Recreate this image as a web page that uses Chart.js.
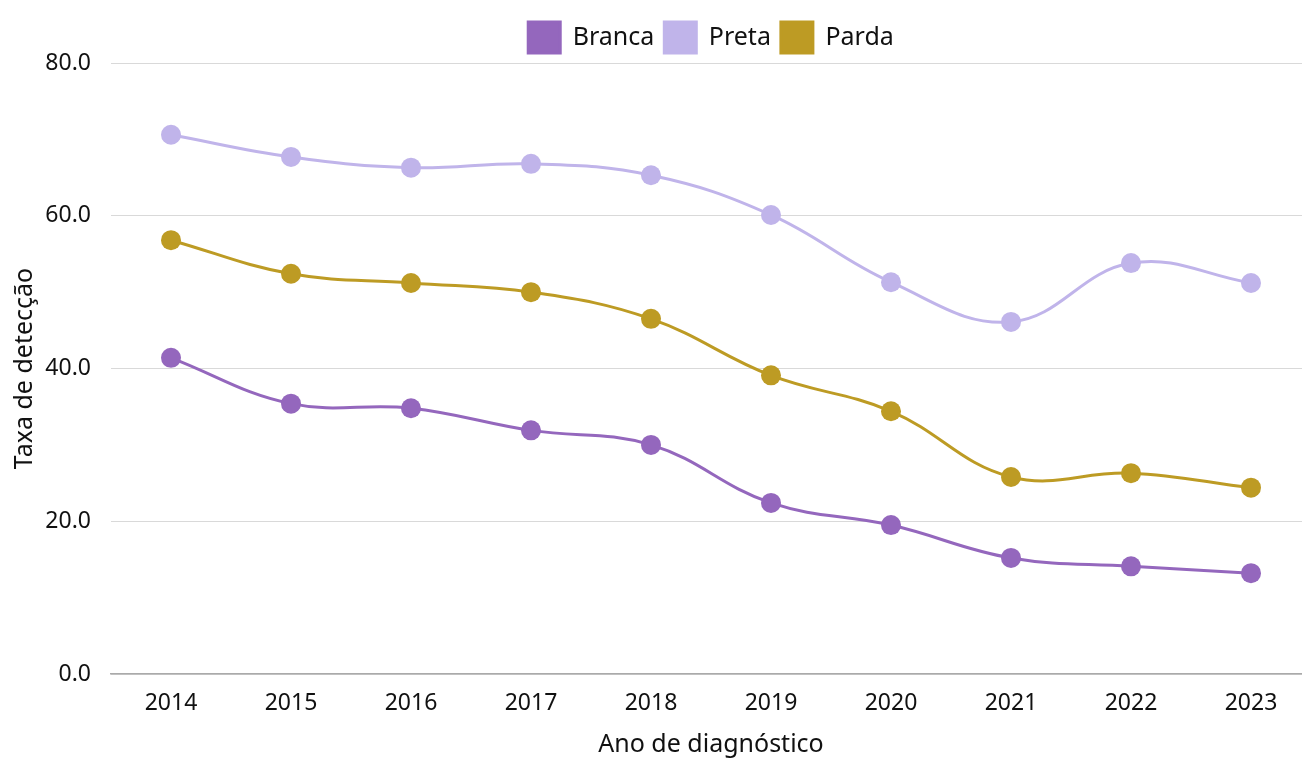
<!DOCTYPE html>
<html>
<head>
<meta charset="utf-8">
<script src="https://cdn.jsdelivr.net/npm/chart.js@4"></script>
<style>
  html, body { margin: 0; padding: 0; background: #fff; overflow: hidden; }
  #clip { width: 1302px; height: 760px; overflow: hidden; position: relative; }
  canvas { display: block; position: absolute; left: 0; top: 0; }
</style>
</head>
<body>
<!-- plot area runs a little past the right edge, as in the original -->
<div id="clip"><canvas id="chart" width="1311" height="760"></canvas></div>
<script>
// data
const years = ['2014', '2015', '2016', '2017', '2018', '2019', '2020', '2021', '2022', '2023'];
const branca = [41.4, 35.4, 34.8, 31.9, 30.0, 22.4, 19.5, 15.2, 14.1, 13.2];
const preta = [70.6, 67.7, 66.3, 66.8, 65.3, 60.1, 51.3, 46.1, 53.8, 51.2];
const parda = [56.8, 52.4, 51.2, 50.0, 46.5, 39.1, 34.4, 25.8, 26.3, 24.4];
const yTicks = [0, 20, 40, 60, 80];

const FONT = "'Noto Sans', sans-serif";

function series(label, data, color) {
    return {
        label: label,
        data: data,
        borderColor: color,
        backgroundColor: color,
        pointBackgroundColor: color,
        pointBorderWidth: 0,
        pointRadius: 10,
        pointHoverRadius: 10,
        borderWidth: 3,
        tension: 0.4
    };
}

new Chart(document.getElementById('chart'), {
    type: 'line',
    data: {
        labels: years,
        datasets: [
            series('Branca', branca, '#9467bd'),
            series('Preta', preta, '#c0b4ea'),
            series('Parda', parda, '#bd9b24')
        ]
    },
    options: {
        responsive: false,
        animation: false,
        layout: {
            autoPadding: false,
            padding: { top: 7, left: 0, right: 0, bottom: 0 }
        },
        plugins: {
            legend: {
                position: 'top',
                fullSize: false,
                labels: {
                    boxWidth: 32,
                    boxHeight: 31,
                    padding: 10,
                    color: '#111',
                    font: { family: FONT, size: 25 }
                }
            },
            tooltip: { enabled: false }
        },
        scales: {
            x: {
                offset: true,
                grid: { display: false },
                border: { color: '#aaaaaa', width: 1.5 },
                ticks: { color: '#111', padding: 8, font: { family: FONT, size: 23 } },
                title: {
                    display: true,
                    text: 'Ano de diagnóstico',
                    color: '#111',
                    padding: 0,
                    font: { family: FONT, size: 25 }
                },
                afterFit: function(scale) {
                    scale.height = 86;
                    scale.paddingLeft = 0;
                    scale.paddingRight = 0;
                }
            },
            y: {
                min: 0,
                max: 80,
                afterBuildTicks: function(scale) {
                    scale.ticks = yTicks.map(v => ({ value: v }));
                },
                grid: { color: '#d9d9d9', drawTicks: false },
                border: { display: false },
                ticks: {
                    color: '#111',
                    padding: 20,
                    font: { family: FONT, size: 23 },
                    callback: v => v.toFixed(1)
                },
                title: {
                    display: true,
                    text: 'Taxa de detecção',
                    color: '#111',
                    padding: { top: 10, bottom: 10 },
                    font: { family: FONT, size: 25 }
                },
                afterFit: function(scale) {
                    scale.width = 111;
                    scale.paddingTop = 63;
                }
            }
        }
    }
});
</script>
</body>
</html>
